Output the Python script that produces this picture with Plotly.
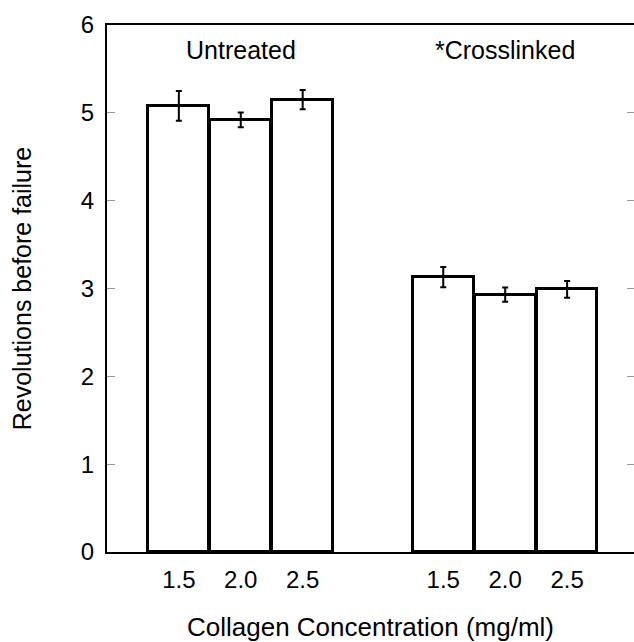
import plotly.graph_objects as go

groups = ["Untreated", "*Crosslinked"]
concentrations = ["1.5", "2.0", "2.5"]
untreated_mean = [5.08, 4.92, 5.15]
untreated_err = [0.17, 0.085, 0.11]
crosslinked_mean = [3.13, 2.93, 2.99]
crosslinked_err = [0.115, 0.08, 0.095]
y_ticks = [0, 1, 2, 3, 4, 5, 6]

GAP = 4.27
xs_u = [i for i in range(len(concentrations))]
xs_c = [GAP + i for i in range(len(concentrations))]

FONT = "Liberation Sans, Arial, sans-serif"
FS = 24

fig = go.Figure()
for xs, means, errs in [(xs_u, untreated_mean, untreated_err), (xs_c, crosslinked_mean, crosslinked_err)]:
    fig.add_trace(go.Bar(
        x=xs, y=means, width=0.98,
        marker=dict(color="white", line=dict(color="black", width=3)),
        error_y=dict(type="data", array=errs, visible=True, color="black", thickness=2, width=3),
        showlegend=False,
    ))

# right-side ticks via overlay axis
fig.add_trace(go.Scatter(x=[None], y=[None], yaxis="y2", showlegend=False))

fig.update_layout(
    width=634, height=642,
    margin=dict(l=107, r=0, t=25, b=90),
    paper_bgcolor="white", plot_bgcolor="white",
    font=dict(family=FONT, size=FS, color="black"),
    bargap=0,
    xaxis=dict(
        range=[-1.16, xs_c[-1] + 1.08],
        tickmode="array", tickvals=xs_u + xs_c,
        ticktext=concentrations * 2,
        showgrid=False, zeroline=False,
        showline=True, linecolor="black", linewidth=2, mirror=True,
        ticks="", ticklabelstandoff=5,
        title=dict(text="Collagen Concentration (mg/ml)", standoff=26, font=dict(size=26)),
        tickfont=dict(size=FS),
    ),
    yaxis=dict(
        range=[0, 6], tickvals=y_ticks,
        showgrid=False, zeroline=False,
        showline=True, linecolor="black", linewidth=2,
        ticks="inside", ticklen=8, tickcolor="#999999", tickwidth=1,
        ticklabelstandoff=6,
        tickfont=dict(size=FS),
        title=dict(text="Revolutions before failure", standoff=42, font=dict(size=25)),
    ),
    yaxis2=dict(
        range=[0, 6], tickvals=y_ticks, overlaying="y", side="right",
        showgrid=False, zeroline=False, showline=False,
        ticks="inside", ticklen=7, tickcolor="#999999", tickwidth=1,
        showticklabels=False,
    ),
)

fig.add_annotation(x=(xs_u[0] + xs_u[-1]) / 2, y=5.72, text=groups[0], showarrow=False,
                   xref="x", yref="y", font=dict(size=FS + 1))
fig.add_annotation(x=(xs_c[0] + xs_c[-1]) / 2, y=5.72, text=groups[1], showarrow=False,
                   xref="x", yref="y", font=dict(size=FS + 1))

fig.write_html("out.html")
